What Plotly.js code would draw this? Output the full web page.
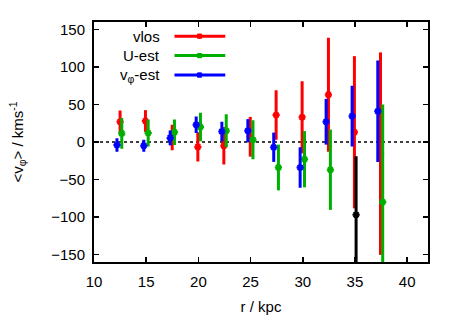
<!DOCTYPE html>
<html>
<head>
<meta charset="utf-8">
<script src="https://cdn.plot.ly/plotly-3.0.1.min.js"></script>
<style>
  html, body { margin: 0; padding: 0; background: #fff; }
  #chart { width: 463px; height: 324px; }
</style>
</head>
<body>
<div id="chart"></div>
<script>
// vlos series
const vlosR = [12.5, 14.93, 17.49, 19.95, 22.44, 24.97, 27.45, 29.94, 32.46, 34.95, 37.45];
const vlosV = [27, 28, 6, -6.5, -5, 7, 36, 33, 63, 13, -15.5];
const vlosE = [15, 14.5, 17, 19.5, 25, 26.5, 33, 48, 76, 101.5, 135];

// U-est series
const uestR = [12.66, 15.19, 17.71, 20.2, 22.67, 25.23, 27.67, 30.17, 32.65, 37.66];
const uestV = [11.5, 12, 13, 20, 15, 3, -34, -23, -37, -80];
const uestE = [20.5, 18, 17, 19, 22, 26, 30.5, 37.5, 53.5, 130];

// v_phi-est series
const vphiR = [12.2, 14.77, 17.3, 19.79, 22.25, 24.74, 27.22, 29.75, 32.24, 34.73, 37.19];
const vphiV = [-4, -5, 5.5, 23, 14, 15, -7, -34, 27, 34.5, 41];
const vphiE = [9, 8, 10, 11, 13, 15.5, 19.5, 27, 30.5, 40.5, 67.7];

// extra black point (no legend entry)
const blackR = [35.11];
const blackV = [-97];
const blackE = [78];

const legendNames = ['vlos', 'U-est', 'v<sub>φ</sub>-est'];
const colors = ['#ff0000', '#00b000', '#0000ff'];

function errTrace(x, y, e, color) {
  return {
    type: 'scatter',
    mode: 'markers',
    x: x,
    y: y,
    showlegend: false,
    marker: { symbol: 'asterisk-open', size: 6, color: color, line: { color: color, width: 2 } },
    error_y: { type: 'data', array: e, visible: true, color: color, thickness: 3, width: 0 },
    cliponaxis: true
  };
}

const traces = [
  errTrace(vlosR, vlosV, vlosE, colors[0]),
  errTrace(uestR, uestV, uestE, colors[1]),
  errTrace(vphiR, vphiV, vphiE, colors[2]),
  errTrace(blackR, blackV, blackE, '#000000')
];

const font = { family: 'Liberation Sans, Arial, sans-serif', size: 15, color: '#000' };

// hand-made gnuplot style key: text right-aligned, sample line to the right
const keyY = [0.941, 0.860, 0.779];
const shapes = [{
  type: 'line', xref: 'paper', x0: 0, x1: 1, yref: 'y', y0: 0, y1: 0,
  line: { color: '#000', width: 1.5, dash: 'dot' }, layer: 'below'
}];
const annotations = [];
legendNames.forEach((name, i) => {
  annotations.push({
    xref: 'paper', yref: 'paper', x: 0.205, y: keyY[i],
    xanchor: 'right', yanchor: 'middle', text: name, showarrow: false, font: font
  });
  shapes.push({
    type: 'line', xref: 'paper', yref: 'paper', x0: 0.241, x1: 0.393, y0: keyY[i], y1: keyY[i],
    line: { color: colors[i], width: 3 }
  });
  shapes.push({
    type: 'rect', xref: 'paper', yref: 'paper', x0: 0.310, x1: 0.322,
    y0: keyY[i] - 0.009, y1: keyY[i] + 0.009,
    line: { color: colors[i], width: 1 }, fillcolor: colors[i]
  });
});

const layout = {
  width: 463,
  height: 324,
  margin: { l: 94, r: 35, t: 22, b: 62 },
  paper_bgcolor: '#fff',
  plot_bgcolor: '#fff',
  font: font,
  showlegend: false,
  xaxis: {
    range: [10, 42],
    tickvals: [10, 15, 20, 25, 30, 35, 40],
    ticks: 'inside', ticklen: 5, tickwidth: 1.5, tickcolor: '#000',
    ticklabelstandoff: 5,
    showline: true, linecolor: '#000', linewidth: 2, mirror: 'ticks',
    showgrid: false, zeroline: false,
    title: { text: 'r / kpc', font: font, standoff: 12 }
  },
  yaxis: {
    range: [-160, 160],
    tickvals: [-150, -100, -50, 0, 50, 100, 150],
    ticks: 'inside', ticklen: 5, tickwidth: 1.5, tickcolor: '#000',
    ticklabelstandoff: 4,
    showline: true, linecolor: '#000', linewidth: 2, mirror: 'ticks',
    showgrid: false, zeroline: false,
    title: { text: '&lt;v<sub>φ</sub>&gt; / kms<sup>-1</sup>', font: font, standoff: 24 }
  },
  shapes: shapes,
  annotations: annotations
};

Plotly.newPlot('chart', traces, layout, { staticPlot: true, displayModeBar: false });
</script>
</body>
</html>
